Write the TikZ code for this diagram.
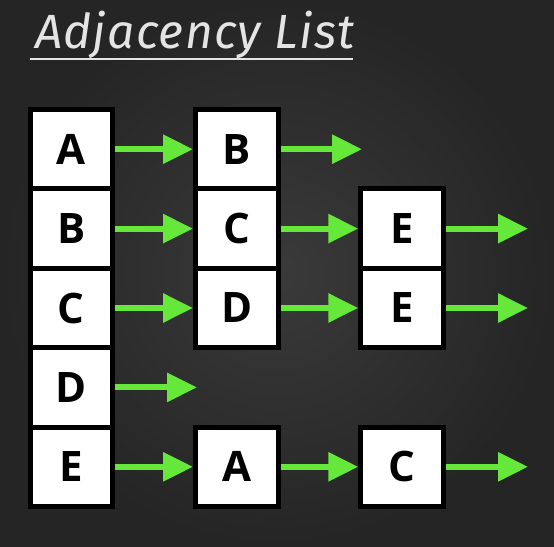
\documentclass[tikz,border=0pt]{standalone}
\usepackage{fontspec}
\setmainfont{Open Sans}
\newfontfamily\titlefont[LetterSpace=2.5]{Fira Sans}
\usetikzlibrary{arrows.meta}
\definecolor{bgin}{HTML}{3A3A3A}
\definecolor{bgout}{HTML}{252525}
\definecolor{arrowgreen}{HTML}{66E83A}
\definecolor{chalk}{HTML}{E4E4E4}
\begin{document}
\begin{tikzpicture}[x=1pt,y=-1pt,
  cell/.style={draw=black, fill=white, line width=5pt, minimum width=82.5pt,
    minimum height=79.4pt, inner sep=0pt,
    font=\fontsize{42}{42}\selectfont\bfseries},
  link/.style={draw=arrowgreen, line width=6pt,
    -{Triangle[length=30pt,width=28pt]}}]
\useasboundingbox (0,0) rectangle (554,546);
\shade[inner color=bgin, outer color=bgout] (0,0) rectangle (554,546);
% title
\node[anchor=base west, inner sep=0pt, text=chalk,
  font=\titlefont\itshape\fontsize{48}{48}\selectfont] (title) at (35,48) {Adjacency List};
\draw[chalk, line width=1.5pt] (30,59) -- (353,59);
% column 1
\node[cell] (a1) at (71.25,149.2) {A};
\node[cell] (b1) at (71.25,228.6) {B};
\node[cell] (c1) at (71.25,308.0) {C};
\node[cell] (d1) at (71.25,387.4) {D};
\node[cell] (e1) at (71.25,466.8) {E};
% column 2
\node[cell] (a2) at (236.75,149.2) {B};
\node[cell] (b2) at (236.75,228.6) {C};
\node[cell] (c2) at (236.75,308.0) {D};
\node[cell] (e2) at (236.75,466.8) {A};
% column 3
\node[cell] (b3) at (402,228.6) {E};
\node[cell] (c3) at (402,308.0) {E};
\node[cell] (e3) at (402,466.8) {C};
% free ends
\coordinate (fa) at (362,149.2);
\coordinate (fb) at (528,228.6);
\coordinate (fc) at (528,308.0);
\coordinate (fd) at (197,387.4);
\coordinate (fe) at (528,466.8);
% arrows
\draw[link] (a1.east) -- (a2.west);
\draw[link] (a2.east) -- (fa);
\draw[link] (b1.east) -- (b2.west);
\draw[link] (b2.east) -- (b3.west);
\draw[link] (b3.east) -- (fb);
\draw[link] (c1.east) -- (c2.west);
\draw[link] (c2.east) -- (c3.west);
\draw[link] (c3.east) -- (fc);
\draw[link] (d1.east) -- (fd);
\draw[link] (e1.east) -- (e2.west);
\draw[link] (e2.east) -- (e3.west);
\draw[link] (e3.east) -- (fe);
\end{tikzpicture}
\end{document}
